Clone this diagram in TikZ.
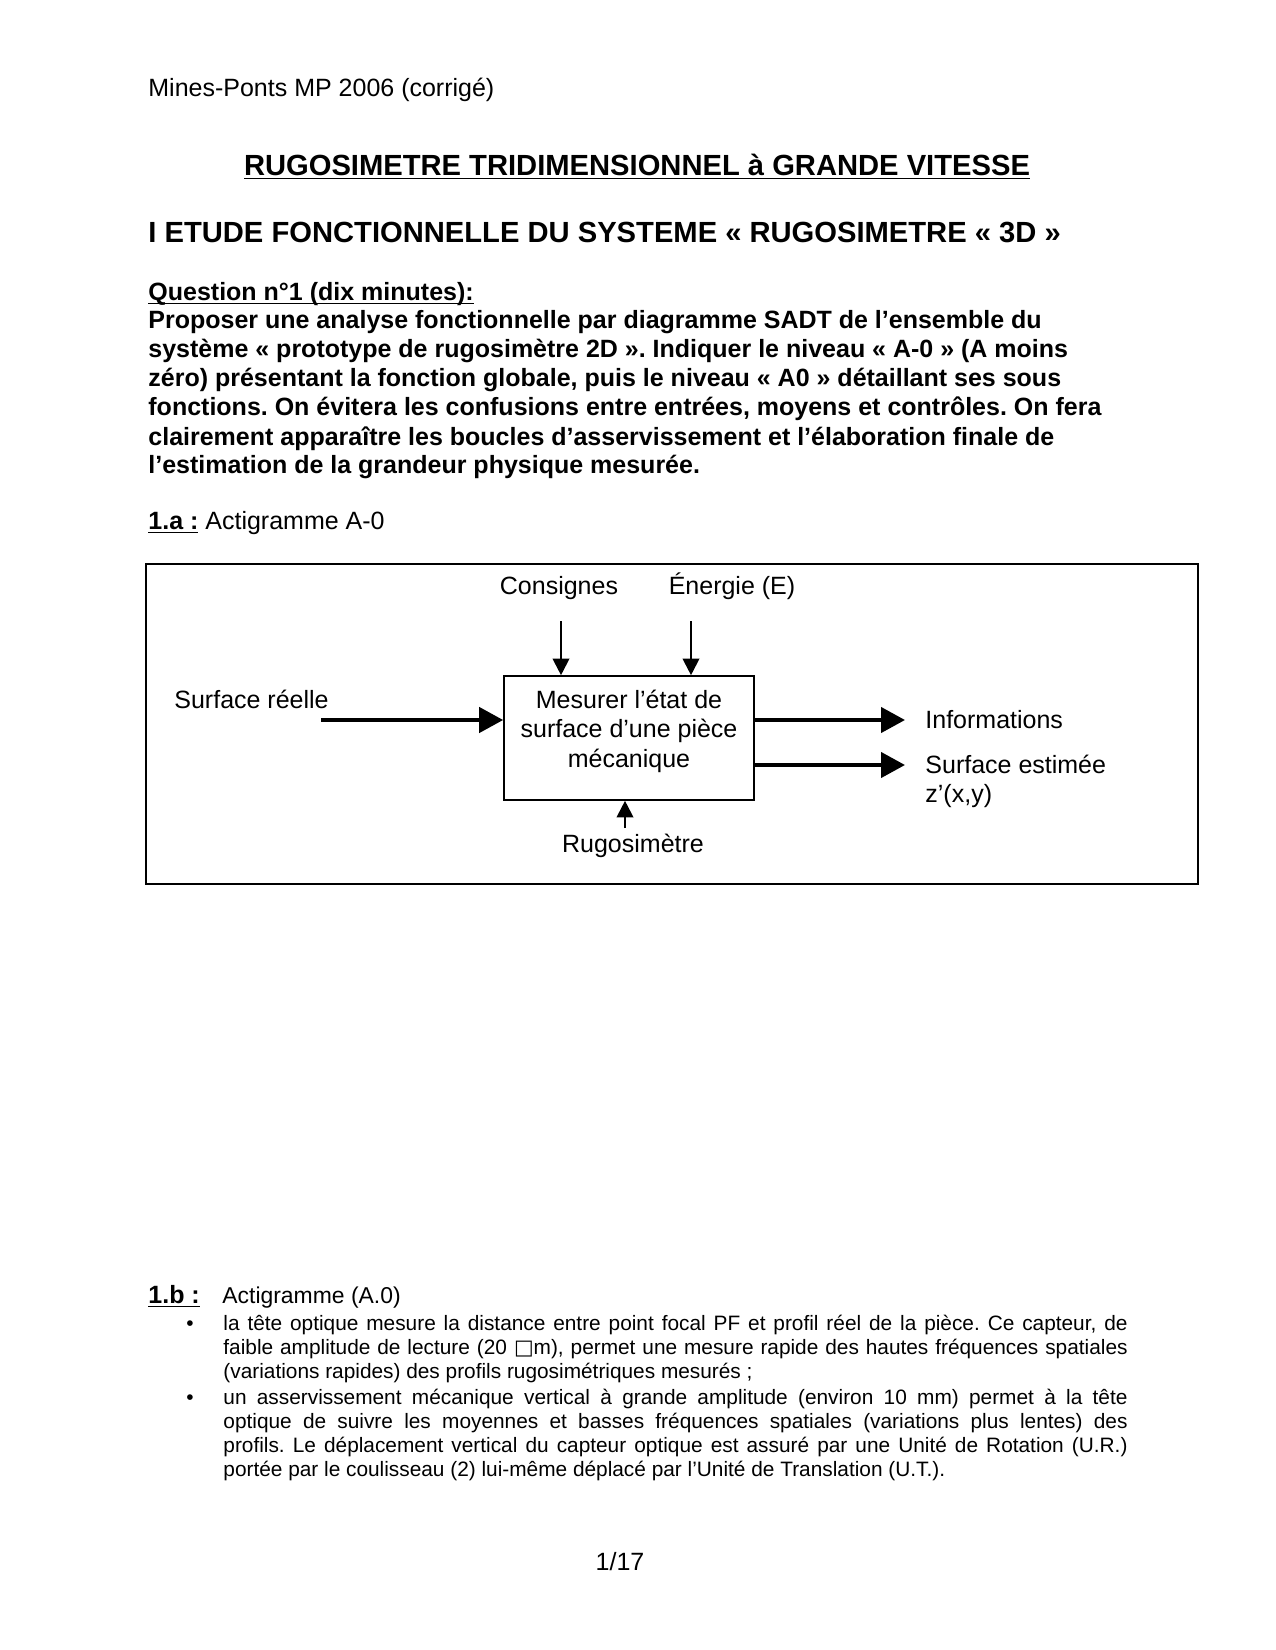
\documentclass[tikz,border=0pt]{standalone}
\usepackage{fontspec}
\setmainfont{Liberation Sans}
\newfontfamily\dejavu{DejaVu Sans}
\usepackage{tikz}
\usetikzlibrary{arrows.meta,positioning,calc}
\newcommand{\ligne}[1]{\makebox[434pt][s]{#1}}
\newcommand{\souligne}[1]{\underline{\smash{#1}}}
\frenchspacing

\begin{document}
\begin{tikzpicture}[x=0.48pt,y=-0.48pt,
  every node/.style={font=\fontsize{12}{14}\selectfont},
  txt/.style={anchor=base west,inner sep=0pt},
  ctxt/.style={anchor=base,inner sep=0pt},
  puce/.style={txt,font=\fontsize{10}{12}\selectfont},
  fonction/.style={draw,line width=0.8pt,minimum width=120pt,minimum height=59.5pt,inner sep=0pt},
  grosse/.style={line width=2pt,-{Triangle[length=11.5pt,width=12pt]}},
  fleche/.style={line width=1pt,-{Triangle[length=8pt,width=8pt]}}]
\useasboundingbox (0,0) rectangle (1275,1650);

% en-tete et titres
\node[txt] (entete) at (148,97) {Mines-Ponts MP 2006 (corrigé)};
\node[ctxt,font=\bfseries\fontsize{14}{16}\selectfont] (titre) at (637,176) {\souligne{RUGOSIMETRE TRIDIMENSIONNEL à GRANDE VITESSE}};
\node[txt,font=\bfseries\fontsize{14}{16}\selectfont] (partie) at (148,243) {I ETUDE FONCTIONNELLE DU SYSTEME « RUGOSIMETRE « 3D »};

% enonce
\begin{scope}[every node/.style={txt,font=\bfseries\fontsize{12}{14}\selectfont}]
\node (q1) at (148,301) {\souligne{Question n°1 (dix minutes):}};
\node (l1) at (148,329) {Proposer une analyse fonctionnelle par diagramme SADT de l’ensemble du};
\node (l2) at (148,358) {système « prototype de rugosimètre 2D ». Indiquer le niveau « A-0 » (A moins};
\node (l3) at (148,387) {zéro) présentant la fonction globale, puis le niveau « A0 » détaillant ses sous};
\node (l4) at (148,416) {fonctions. On évitera les confusions entre entrées, moyens et contrôles. On fera};
\node (l5) at (148,445) {clairement apparaître les boucles d’asservissement et l’élaboration finale de};
\node (l6) at (148,473) {l’estimation de la grandeur physique mesurée.};
\end{scope}

% 1.a actigramme A-0
\node[txt] (qa) at (148,529) {\textbf{\souligne{1.a :}} Actigramme A-0};
\draw[line width=1pt] (146,564) rectangle (1198,884);
\node[fonction] (fct) at (629,738) {};
\node[align=center,inner sep=0pt,font=\fontsize{12}{14.2}\selectfont] (fcttxt) at ($(fct.center)+(0,-7)$) {Mesurer l’état de\\surface d’une pièce\\mécanique};
\node[ctxt] (cons) at (559,594) {Consignes};
\node[ctxt] (ener) at (732,594) {Énergie (E)};
\node[txt] (surf) at (174,708) {Surface réelle};
\node[txt] (info) at (925,728) {Informations};
\node[txt] (sest) at (925,773) {Surface estimée};
\node[txt] (zxy) at (925,802) {z’(x,y)};
\node[ctxt] (rugo) at (633,852) {Rugosimètre};
\coordinate (c1) at (561,621);
\coordinate (c2) at (691,621);
\coordinate (e1) at (321,720);
\coordinate (s1) at (905,720);
\coordinate (s2) at (905,765);
\coordinate (m1) at (625,828);
\draw[fleche] (c1) -- (c1 |- fct.north);
\draw[fleche] (c2) -- (c2 |- fct.north);
\draw[grosse] (e1) -- (e1 -| fct.west);
\draw[grosse] (s1 -| fct.east) -- (s1);
\draw[grosse] (s2 -| fct.east) -- (s2);
\draw[fleche] (m1) -- (m1 |- fct.south);

% 1.b actigramme A.0
\node[txt] (qb) at (148,1303) {\textbf{\souligne{1.b :}}};
\node[txt,font=\fontsize{11}{13}\selectfont] (actb) at (222,1303) {Actigramme (A.0)};
\node[puce] (p1) at (186,1330) {•};
\node[puce] (p2) at (186,1404) {•};
\node[puce] (b1) at (223,1330) {\ligne{la tête optique mesure la distance entre point focal PF et profil réel de la pièce. Ce capteur, de}};
\node[puce] (b2) at (223,1354) {\ligne{faible amplitude de lecture (20 {\dejavu □}m), permet une mesure rapide des hautes fréquences spatiales}};
\node[puce] (b3) at (223,1378) {(variations rapides) des profils rugosimétriques mesurés ;};
\node[puce] (b4) at (223,1404) {\ligne{un asservissement mécanique vertical à grande amplitude (environ 10 mm) permet à la tête}};
\node[puce] (b5) at (223,1428) {\ligne{optique de suivre les moyennes et basses fréquences spatiales (variations plus lentes) des}};
\node[puce] (b6) at (223,1452) {\ligne{profils. Le déplacement vertical du capteur optique est assuré par une Unité de Rotation (U.R.)}};
\node[puce] (b7) at (223,1476) {portée par le coulisseau (2) lui-même déplacé par l’Unité de Translation (U.T.).};

\node[ctxt] (page) at (620,1570) {1/17};
\end{tikzpicture}
\end{document}
